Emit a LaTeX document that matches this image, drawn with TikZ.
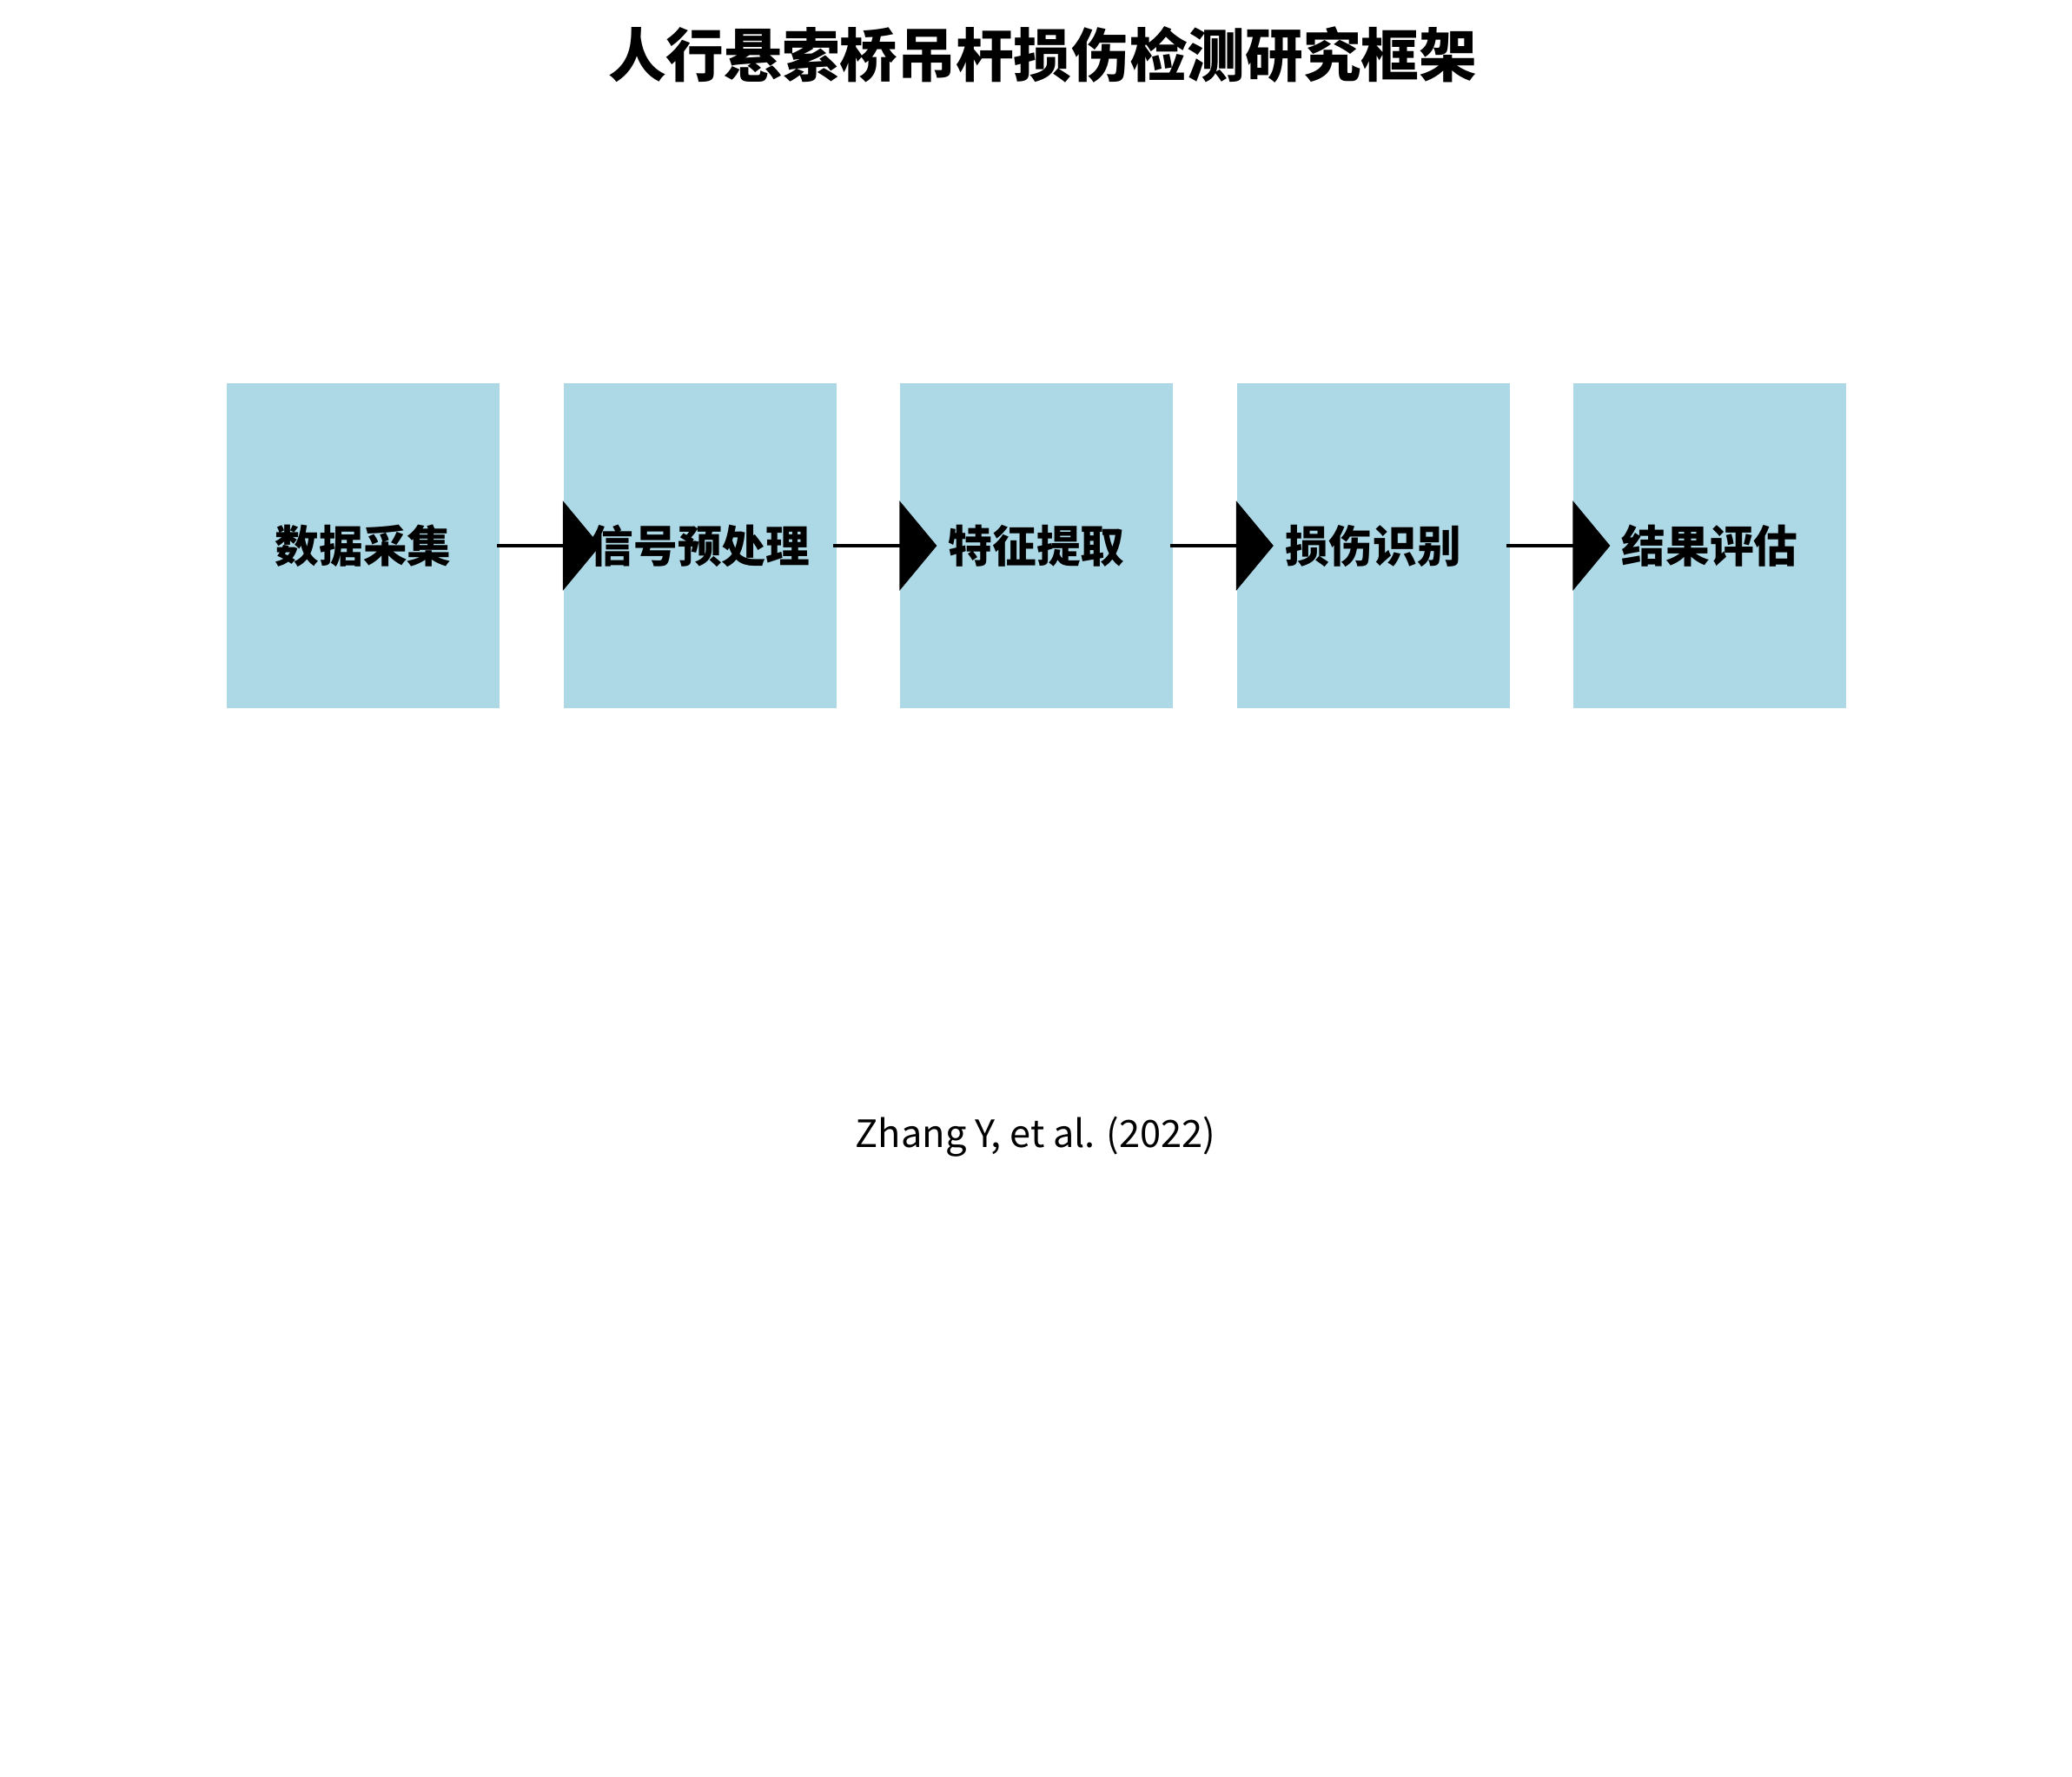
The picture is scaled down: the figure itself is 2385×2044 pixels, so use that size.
\documentclass[tikz,border=0pt]{standalone}
\usepackage{fontspec}
\setmainfont{Noto Sans CJK SC}
\usetikzlibrary{arrows.meta}
\definecolor{boxblue}{HTML}{ADD8E6}
\begin{document}
\begin{tikzpicture}[x=0.3pt,y=-0.3pt,>={Triangle[length=12.9pt,width=30.9pt]},line join=round,
	stage/.style={fill=boxblue,minimum width=94.2pt,minimum height=112.2pt,inner sep=0pt,font=\bfseries\fontsize{15.2}{18}\selectfont},
	link/.style={->,line width=1pt}]
				\useasboundingbox (0,0) rectangle (2385,2044);
				\node[font=\bfseries\fontsize{20}{24}\selectfont] (title) at (1200,63) {人行悬索桥吊杆损伤检测研究框架};
				\node[stage] (s1) at (418,628) {数据采集};
				\node[stage] (s2) at (805.5,628) {信号预处理};
				\node[stage] (s3) at (1193,628) {特征提取};
				\node[stage] (s4) at (1580.5,628) {损伤识别};
				\node[stage] (s5) at (1968,628) {结果评估};
				\draw[link] ([xshift=-1.2pt]s1.east) -- ([xshift=12.9pt]s2.west);
				\draw[link] ([xshift=-1.2pt]s2.east) -- ([xshift=12.9pt]s3.west);
				\draw[link] ([xshift=-1.2pt]s3.east) -- ([xshift=12.9pt]s4.west);
				\draw[link] ([xshift=-1.2pt]s4.east) -- ([xshift=12.9pt]s5.west);
				\node[font=\fontsize{13}{16}\selectfont] (ref) at (1192,1308) {Zhang Y, et al. (2022)};
			\end{tikzpicture}
\end{document}
